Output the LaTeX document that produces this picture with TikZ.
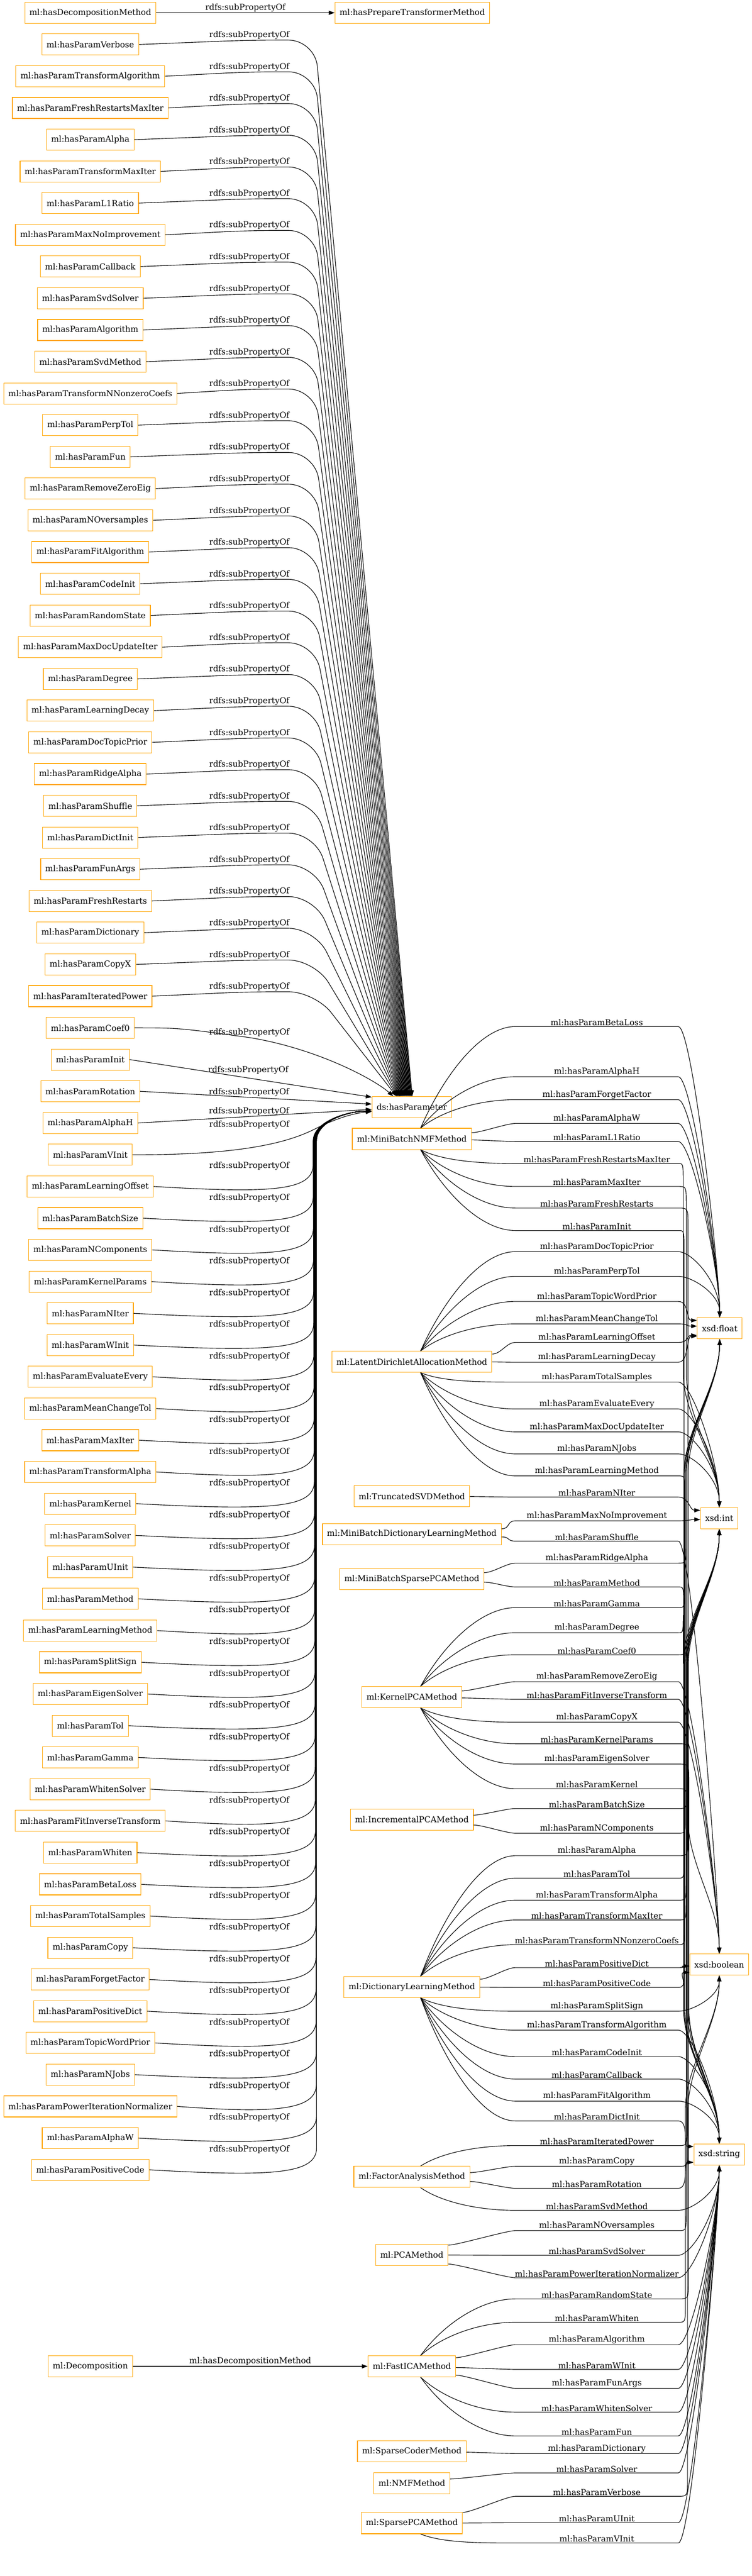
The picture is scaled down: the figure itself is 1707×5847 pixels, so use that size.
\documentclass[tikz,border=0pt]{standalone}
\usepackage{fontspec}
\setmainfont{DejaVu Serif}
\usetikzlibrary{arrows.meta,calc}
\definecolor{gvorange}{HTML}{FFA500}

\begin{document}
\begin{tikzpicture}[x=0.75bp, y=-0.75bp, line width=1bp,
    font=\fontsize{14bp}{17bp}\selectfont,
    >={Triangle[length=10bp,width=7bp]},
    prop/.style={draw=gvorange, minimum height=36bp, inner xsep=7.92bp, inner ysep=2bp},
    elab/.style={inner sep=1bp}]
    \fill [white] (0,0) rectangle (1707,5847);
    \useasboundingbox (0,0) rectangle (1707,5847);

    % property column
    \path (205,29) node [prop] (p0) {ml:hasDecompositionMethod};
    \path (936,29) node [prop] (prep) {ml:hasPrepareTransformerMethod};
    \draw [->] (p0.east) -- node [elab,above] {rdfs:subPropertyOf} (prep.west);
    \foreach \n [count=\i] in {Verbose,TransformAlgorithm,FreshRestartsMaxIter,Alpha,
        TransformMaxIter,L1Ratio,MaxNoImprovement,Callback,SvdSolver,Algorithm,SvdMethod,
        TransformNNonzeroCoefs,PerpTol,Fun,RemoveZeroEig,NOversamples,FitAlgorithm,CodeInit,
        RandomState,MaxDocUpdateIter,Degree,LearningDecay,DocTopicPrior,RidgeAlpha,Shuffle,
        DictInit,FunArgs,FreshRestarts,Dictionary,CopyX,IteratedPower,Coef0,Init,Rotation,
        AlphaH,VInit,LearningOffset,BatchSize,NComponents,KernelParams,NIter,WInit,
        EvaluateEvery,MeanChangeTol,MaxIter,TransformAlpha,Kernel,Solver,UInit,Method,
        LearningMethod,SplitSign,EigenSolver,Tol,Gamma,WhitenSolver,FitInverseTransform,
        Whiten,BetaLoss,TotalSamples,Copy,ForgetFactor,PositiveDict,TopicWordPrior,NJobs,
        PowerIterationNormalizer,AlphaW,PositiveCode}
        \path (205,{29+72*\i}) node [prop] (p\i) {ml:hasParam\n};

    \path (935,2513) node [prop] (hp) {ds:hasParameter};

    % subPropertyOf edges, rows above ds:hasParameter
    \foreach \i in {1,...,31} {
        \pgfmathsetmacro{\y}{29+72*\i}
        \pgfmathsetmacro{\dx}{1-1.2*(\i-1)}
        \draw [->, rounded corners=45bp] (p\i.east) -- (566,{\y-10})
            node [elab,above] {rdfs:subPropertyOf} -- (715,{\y-10}) -- ($(hp.north)+(\dx,0)$);
    }
    \draw [->] (p32.east) .. controls +(100,0) .. (566,2355) node [elab,above] {rdfs:subPropertyOf}
        .. controls (720,2380) and (850,2450) .. ($(hp.north)+(-42,0)$);
    \draw [->] (p33.east) -- node [elab,above=5bp,pos=0.49] {rdfs:subPropertyOf} ($(hp.north west)+(0,2)$);
    \draw [->] (p34.east) -- node [elab,above,pos=0.47] {rdfs:subPropertyOf} ($(hp.west)+(0,-7)$);
    \draw [->] (p35.east) -- node [elab,above,pos=0.475] {rdfs:subPropertyOf} ($(hp.west)+(0,5)$);
    \draw [->] (p36.east) .. controls (560,2622) and (660,2590) .. (714,2563)
        .. controls (760,2540) and (800,2527) .. ($(hp.west)+(0,10)$)
        node [elab] at (566,2553) {rdfs:subPropertyOf};
    % rows below ds:hasParameter
    \foreach \i in {37,...,68} {
        \pgfmathsetmacro{\y}{29+72*\i}
        \pgfmathsetmacro{\xv}{711+0.25*(\i-37)}
        \draw [->] (p\i.east) .. controls (620,{\y+16}) and (\xv,{\y+10}) .. (\xv,{\y-50})
            -- (\xv,2590) .. controls (\xv,2545) and (790,2522) .. ($(hp.west)+(0,9)$)
            node [elab] at (566,{\y-46}) {rdfs:subPropertyOf};
    }

    % methods
    \path (935,2585) node [prop] (mnmf) {ml:MiniBatchNMFMethod};
    \path (935,3091) node [prop] (lda) {ml:LatentDirichletAllocationMethod};
    \path (935,3396) node [prop] (tsvd) {ml:TruncatedSVDMethod};
    \path (935,3482) node [prop] (mbdl) {ml:MiniBatchDictionaryLearningMethod};
    \path (935,3584) node [prop] (mbspca) {ml:MiniBatchSparsePCAMethod};
    \path (935,3852) node [prop] (kpca) {ml:KernelPCAMethod};
    \path (935,4130) node [prop] (ipca) {ml:IncrementalPCAMethod};
    \path (935,4510) node [prop] (dl) {ml:DictionaryLearningMethod};
    \path (935,4941) node [prop] (fa) {ml:FactorAnalysisMethod};
    \path (935,5118) node [prop] (pca) {ml:PCAMethod};
    \path (935,5371) node [prop] (fica) {ml:FastICAMethod};
    \path (935,5564) node [prop] (sc) {ml:SparseCoderMethod};
    \path (935,5636) node [prop] (nmf) {ml:NMFMethod};
    \path (935,5727) node [prop] (spca) {ml:SparsePCAMethod};
    \path (205,5371) node [prop] (dec) {ml:Decomposition};
    \draw [->] (dec.east) -- node [elab,above] {ml:hasDecompositionMethod} (fica.west);

    % datatypes
    \path (1634,3015) node [prop] (xf) {xsd:float};
    \path (1633,3446) node [prop] (xi) {xsd:int};
    \path (1633,4459) node [prop] (xb) {xsd:boolean};
    \path (1633,4890) node [prop] (xs) {xsd:string};

    % parameter edges: method/y/line y/type/type y/side/name
    \foreach \mth/\ym/\yl/\tg/\ty/\st/\pn in {
        mnmf/2585/2330/xf/3015/1/BetaLoss, mnmf/2585/2444/xf/3015/1/AlphaH,
        mnmf/2585/2496/xf/3015/1/ForgetFactor, mnmf/2585/2550/xf/3015/0/AlphaW,
        mnmf/2585/2591/xf/3015/0/L1Ratio, mnmf/2585/2641/xi/3446/2/FreshRestartsMaxIter,
        mnmf/2585/2693/xi/3446/2/MaxIter, mnmf/2585/2742/xb/4459/2/FreshRestarts,
        mnmf/2585/2793/xs/4890/2/Init,
        lda/3091/2841/xf/3015/1/DocTopicPrior, lda/3091/2897/xf/3015/1/PerpTol,
        lda/3091/2954/xf/3015/1/TopicWordPrior, lda/3091/3005/xf/3015/1/MeanChangeTol,
        lda/3091/3047/xf/3015/0/LearningOffset, lda/3091/3092/xf/3015/0/LearningDecay,
        lda/3091/3137/xi/3446/2/TotalSamples, lda/3091/3198/xi/3446/2/EvaluateEvery,
        lda/3091/3250/xi/3446/2/MaxDocUpdateIter, lda/3091/3300/xi/3446/2/NJobs,
        lda/3091/3350/xs/4890/2/LearningMethod,
        tsvd/3396/3398/xi/3446/0/NIter,
        mbdl/3482/3452/xi/3446/0/MaxNoImprovement, mbdl/3482/3498/xb/4459/0/Shuffle,
        mbspca/3584/3548/xf/3015/0/RidgeAlpha, mbspca/3584/3602/xs/4890/0/Method,
        kpca/3852/3649/xf/3015/1/Gamma, kpca/3852/3706/xi/3446/1/Degree,
        kpca/3852/3756/xf/3015/1/Coef0, kpca/3852/3817/xb/4459/0/RemoveZeroEig,
        kpca/3852/3857/xb/4459/0/FitInverseTransform, kpca/3852/3909/xb/4459/2/CopyX,
        kpca/3852/3958/xs/4890/2/KernelParams, kpca/3852/4004/xs/4890/2/EigenSolver,
        kpca/3852/4060/xs/4890/2/Kernel,
        ipca/4130/4105/xi/3446/0/BatchSize, ipca/4130/4161/xi/3446/0/NComponents,
        dl/4510/4212/xf/3015/1/Alpha, dl/4510/4263/xf/3015/1/Tol,
        dl/4510/4313/xf/3015/1/TransformAlpha, dl/4510/4358/xi/3446/1/TransformMaxIter,
        dl/4510/4414/xi/3446/1/TransformNNonzeroCoefs, dl/4510/4466/xb/4459/0/PositiveDict,
        dl/4510/4511/xb/4459/0/PositiveCode, dl/4510/4565/xb/4459/2/SplitSign,
        dl/4510/4608/xs/4890/2/TransformAlgorithm, dl/4510/4668/xs/4890/2/CodeInit,
        dl/4510/4719/xs/4890/2/Callback, dl/4510/4769/xs/4890/2/FitAlgorithm,
        dl/4510/4814/xs/4890/2/DictInit,
        fa/4941/4870/xi/3446/1/IteratedPower, fa/4941/4917/xb/4459/0/Copy,
        fa/4941/4967/xs/4890/0/Rotation, fa/4941/5017/xs/4890/2/SvdMethod,
        pca/5118/5063/xi/3446/0/NOversamples, pca/5118/5119/xs/4890/0/SvdSolver,
        pca/5118/5170/xs/4890/0/PowerIterationNormalizer,
        fica/5371/5218/xi/3446/1/RandomState, fica/5371/5271/xb/4459/1/Whiten,
        fica/5371/5322/xs/4890/0/Algorithm, fica/5371/5378/xs/4890/0/WInit,
        fica/5371/5421/xs/4890/0/FunArgs, fica/5371/5475/xs/4890/2/WhitenSolver,
        fica/5371/5529/xs/4890/2/Fun,
        sc/5564/5569/xs/4890/0/Dictionary,
        nmf/5636/5613/xs/4890/0/Solver,
        spca/5727/5666/xi/3446/0/Verbose, spca/5727/5726/xs/4890/0/UInit,
        spca/5727/5772/xs/4890/2/VInit} {
        \pgfmathsetmacro{\dd}{\yl-\ym}
        \pgfmathsetmacro{\ee}{\ty-\yl}
        \pgfmathsetmacro{\sx}{\st==0 ? 0 : 20}
        \pgfmathsetmacro{\sy}{\st==0 ? 0.4*(\dd) : 0}
        \pgfmathsetmacro{\cx}{\st==0 ? 20 : 50}
        \pgfmathsetmacro{\cy}{\st==0 ? 0 : 0.45*(\dd)}
        \pgfmathsetmacro{\bx}{\st==0 ? -20 : -80}
        \edef\sa{\ifcase\st\space east\or north\or south\fi}
        % is another type box in the way?
        \pgfmathtruncatemacro{\nb}{((30.15-\yl/100)*(30.15-\ty/100)<0)
            +((34.46-\yl/100)*(34.46-\ty/100)<0)+((44.59-\yl/100)*(44.59-\ty/100)<0)
            +((48.90-\yl/100)*(48.90-\ty/100)<0)}
        \pgfmathtruncatemacro{\tm}{abs(\ee)<=80 ? 0 : (\nb>0 ? 2 : 1)}
        \pgfmathsetmacro{\sg}{\ee>0 ? 1 : -1}
        \edef\ta{\ifnum\tm=0 west\else\ifdim\ee pt>0pt north\else south\fi\fi}
        \pgfmathsetmacro{\oy}{\tm==0 ? max(-18,min(18,-0.5*(\ee))) : 0}
        \pgfmathsetmacro{\qy}{-(\sg)*min(0.45*abs(\ee),100)}
        \pgfmathsetmacro{\xv}{1550+mod(\yl,15)}
        \ifcase\tm\relax
            \draw [->] ($(\mth.\sa)+(\sx,\sy)$) .. controls +(\cx,\cy) and +(\bx,0) .. (1170,\yl)
                -- node [elab,above] {ml:hasParam\pn} (1540,\yl)
                .. controls (1565,\yl) and +(-25,0) .. ($(\tg.\ta)+(0,\oy)$);
        \or
            \draw [->] ($(\mth.\sa)+(\sx,\sy)$) .. controls +(\cx,\cy) and +(\bx,0) .. (1170,\yl)
                -- node [elab,above] {ml:hasParam\pn} (1540,\yl)
                .. controls (1572,\yl) and +(0,\qy) .. (\tg.\ta);
        \or
            \draw [->] ($(\mth.\sa)+(\sx,\sy)$) .. controls +(\cx,\cy) and +(\bx,0) .. (1170,\yl)
                -- node [elab,above] {ml:hasParam\pn} (1540,\yl)
                .. controls (\xv,\yl) .. (\xv,{\yl+40*(\sg)}) -- (\xv,{\ty-330*(\sg)})
                .. controls (\xv,{\ty-230*(\sg)}) and (1633,{\ty-130*(\sg)}) .. (\tg.\ta);
        \fi
    }
\end{tikzpicture}
\end{document}
